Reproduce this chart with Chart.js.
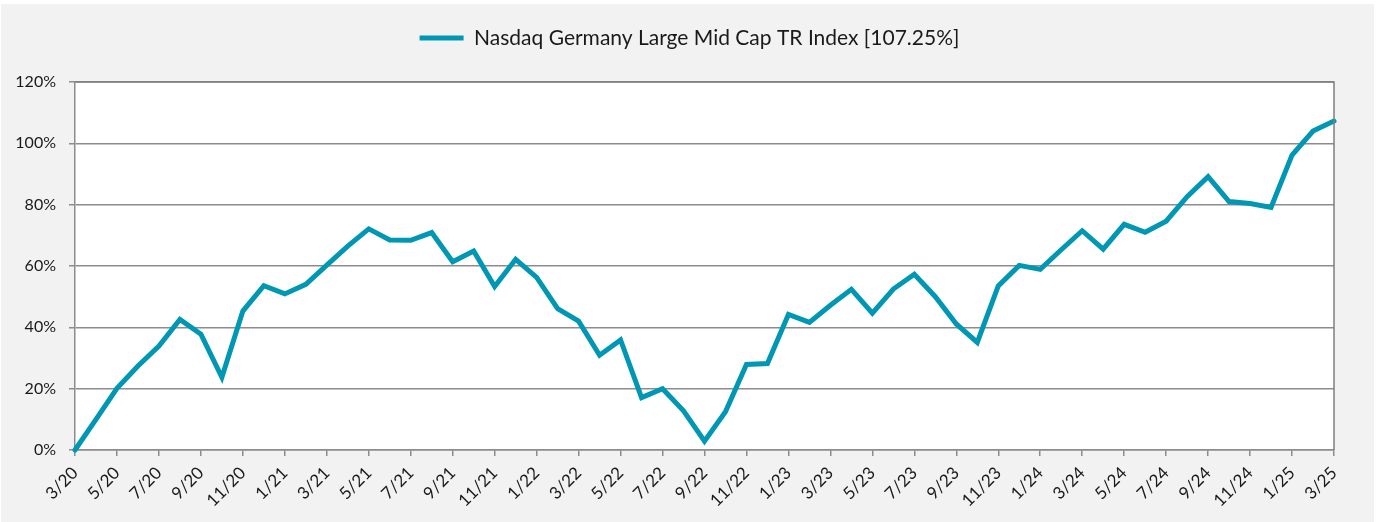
<!DOCTYPE html>
<html>
<head>
<meta charset="utf-8">
<script src="https://cdn.jsdelivr.net/npm/chart.js@4.4.1/dist/chart.umd.min.js"></script>
<style>
  html, body { margin: 0; padding: 0; background: #ffffff; }
  #wrap { position: absolute; left: 1px; top: 4px; width: 1373px; height: 518px; background: #f2f2f2; }
  canvas { display: block; }
</style>
</head>
<body>
<div id="wrap"><canvas id="c" width="1373" height="518"></canvas></div>
<script>
const seriesName = "Nasdaq Germany Large Mid Cap TR Index [107.25%]";
const months = [
  "3/20","4/20","5/20","6/20","7/20","8/20","9/20","10/20","11/20","12/20",
  "1/21","2/21","3/21","4/21","5/21","6/21","7/21","8/21","9/21","10/21","11/21","12/21",
  "1/22","2/22","3/22","4/22","5/22","6/22","7/22","8/22","9/22","10/22","11/22","12/22",
  "1/23","2/23","3/23","4/23","5/23","6/23","7/23","8/23","9/23","10/23","11/23","12/23",
  "1/24","2/24","3/24","4/24","5/24","6/24","7/24","8/24","9/24","10/24","11/24","12/24",
  "1/25","2/25","3/25"
];
const values = [
  0, 10, 20.1, 27.4, 33.9, 42.6, 37.8, 23.7, 45.3, 53.6,
  50.9, 54.0, 60.3, 66.5, 72.1, 68.5, 68.4, 70.9, 61.4, 64.9, 53.3, 62.2,
  56.3, 46.1, 42.0, 30.9, 35.9, 17.1, 20.0, 12.8, 2.9, 12.5, 27.9, 28.2,
  44.2, 41.6, 47.2, 52.4, 44.6, 52.5, 57.3, 50.0, 41.1, 35.1, 53.5, 60.2,
  58.9, 65.3, 71.5, 65.5, 73.6, 71.0, 74.6, 82.6, 89.1, 81.0, 80.4, 79.1,
  96.2, 104.0, 107.25
];
const yTicks = [0, 20, 40, 60, 80, 100, 120];

const FONT = "Lato, 'Open Sans', sans-serif";
const LINE = "#0097b4";

const areaPlugin = {
  id: "areaFrame",
  beforeUpdate(chart) {
    const lg = chart.legend;
    if (lg && !lg._fixed) {
      lg._fixed = true;
      const orig = lg.fit.bind(lg);
      lg.fit = function() { orig(); this.height = 78; };
    }
  },
  afterLayout(chart) {
    const lg = chart.legend;
    if (lg) { lg.left += 22; lg.right += 22; }
  },
  beforeDraw(chart) {
    const {ctx, chartArea: a} = chart;
    ctx.save();
    ctx.fillStyle = "#ffffff";
    ctx.fillRect(a.left, a.top, a.right - a.left, a.bottom - a.top);
    ctx.restore();
  },
  afterDraw(chart) {
    const {ctx, chartArea: a} = chart;
    ctx.save();
    ctx.strokeStyle = "#7f7f7f";
    ctx.lineWidth = 1.5;
    ctx.beginPath();
    ctx.moveTo(a.left, a.top);
    ctx.lineTo(a.right, a.top);
    ctx.lineTo(a.right, a.bottom);
    ctx.stroke();
    ctx.restore();
  }
};

new Chart(document.getElementById("c"), {
  type: "line",
  data: {
    labels: months,
    datasets: [{
      label: seriesName,
      data: values,
      borderColor: LINE,
      backgroundColor: LINE,
      borderWidth: 5,
      borderCapStyle: "round",
      borderJoinStyle: "miter",
      pointRadius: 0,
      tension: 0,
      clip: false
    }]
  },
  options: {
    responsive: false,
    animation: false,
    layout: { padding: { top: 0, right: 40, left: 0, bottom: 0 } },
    plugins: {
      tooltip: { enabled: false },
      legend: {
        position: "top",
        labels: {
          usePointStyle: true,
          pointStyle: "line",
          pointStyleWidth: 44,
          padding: 23.5,
          color: "#1a1a1a",
          font: { family: FONT, size: 21 }
        }
      }
    },
    scales: {
      x: {
        type: "category",
        offset: false,
        grid: {
          drawOnChartArea: false,
          drawTicks: true,
          tickLength: 6,
          color: "#8c8c8c",
          lineWidth: 1.5
        },
        border: { display: true, color: "#8c8c8c", width: 1.5 },
        ticks: {
          autoSkip: false,
          maxRotation: 45,
          minRotation: 45,
          padding: 7,
          color: "#1a1a1a",
          font: { family: FONT, size: 17 },
          callback: function(v, i) { return i % 2 === 0 ? months[i] : null; }
        },
        afterFit(s) { s.height = 72; s.paddingLeft = 0; s.paddingRight = 0; }
      },
      y: {
        min: 0,
        max: 120,
        afterBuildTicks(s) { s.ticks = yTicks.map(v => ({ value: v })); },
        grid: {
          color: "#8c8c8c",
          lineWidth: 1.5,
          tickLength: 6,
          drawTicks: true
        },
        border: { display: true, color: "#8c8c8c", width: 1.5 },
        ticks: {
          padding: 13,
          color: "#1a1a1a",
          font: { family: FONT, size: 16 },
          callback: v => v + "%"
        },
        afterFit(s) { s.width = 74; s.paddingTop = 0; s.paddingBottom = 0; }
      }
    }
  },
  plugins: [areaPlugin]
});
</script>
</body>
</html>
